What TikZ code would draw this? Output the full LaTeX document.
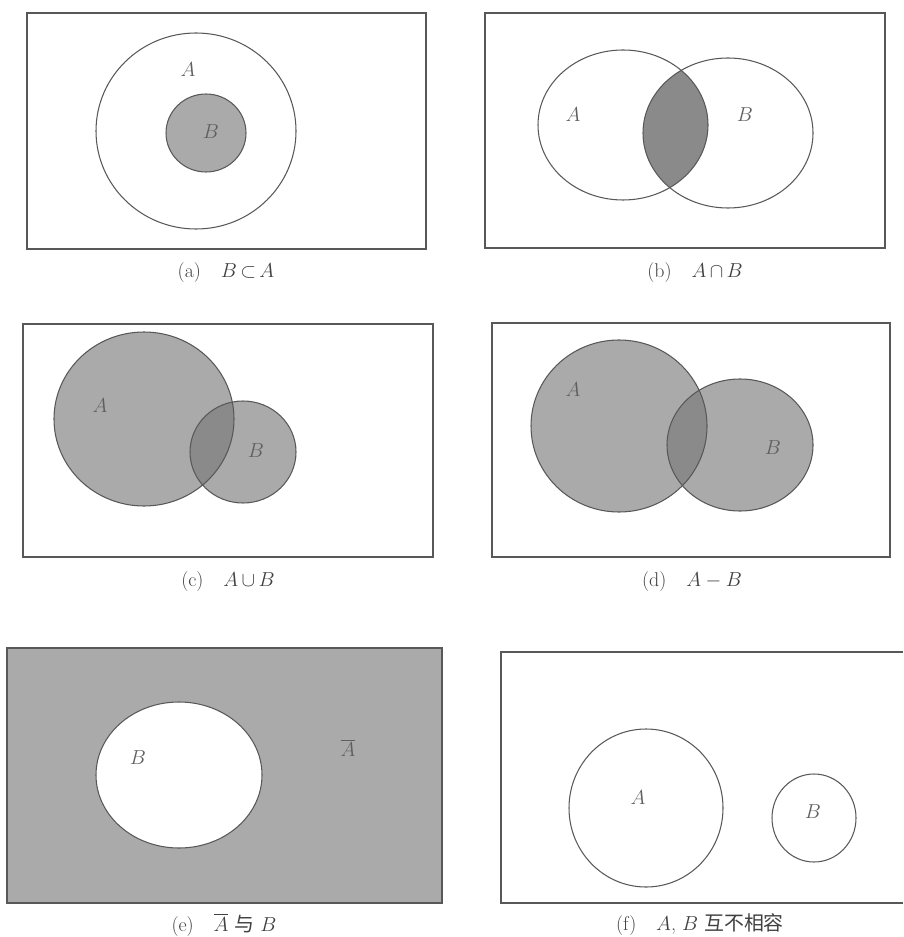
\documentclass[tikz,border=0pt]{standalone}
\usepackage{amsmath}
\usepackage{amssymb}
\usepackage{fontspec}
\newfontfamily\cjk{Noto Sans CJK SC}
\usepackage{tikz}
\usetikzlibrary{positioning}
\usepackage{xcolor}
\definecolor{edgeclr}{RGB}{88, 88, 88}
\definecolor{fillS}{RGB}{170, 170, 170}
\definecolor{fillT}{RGB}{138, 138, 138}
\definecolor{labclr}{RGB}{95, 95, 95}
\tikzset{
  % Universal set box
  unibox/.style   = {draw=edgeclr, line width=0.9pt},
  % Set boundaries
  setedge/.style  = {draw=edgeclr, line width=0.9pt},
  setshade/.style = {fill=fillS},
  setdark/.style  = {fill=fillT},
  % Labels
  lab/.style      = {font=\fontsize{17}{19}\selectfont, text=labclr, inner sep=1pt},
  capline/.style  = {font=\fontsize{17}{19}\selectfont, text=black!75, inner sep=1pt},
}
\begin{document}
\begin{tikzpicture}[x=0.03cm, y=-0.03cm]
  \useasboundingbox (0,0) rectangle (903,937);
  % (a) subset
  \draw[unibox] (27,13) rectangle (426,249);
  \draw[setedge] (196,131) ellipse (100 and 98);
  \draw[setedge, setshade] (206,133) ellipse (40 and 39);
  \node[lab] (a-A) at (188,70) {$A$};
  \node[lab] (a-B) at (211,132) {$B$};
  \node[capline] (cap-a) at (226,273) {(a)\quad $B\,{\subset}\,A$};

  % (b) intersection
  \draw[unibox] (485,13) rectangle (885,248);
  \begin{scope}
    \clip (623,125) ellipse (85 and 75);
    \fill[setdark] (728,133) ellipse (85 and 75);
  \end{scope}
  \draw[setedge] (623,125) ellipse (85 and 75);
  \draw[setedge] (728,133) ellipse (85 and 75);
  \node[lab] (b-A) at (573,115) {$A$};
  \node[lab] (b-B) at (745,115) {$B$};
  \node[capline] (cap-b) at (695,273) {(b)\quad $A\,{\cap}\,B$};

  % (c) union
  \draw[unibox] (23,324) rectangle (433,557);
  \fill[setshade] (144,419) ellipse (90 and 87);
  \fill[setshade] (243,452) ellipse (53 and 51);
  \begin{scope}
    \clip (144,419) ellipse (90 and 87);
    \fill[setdark] (243,452) ellipse (53 and 51);
  \end{scope}
  \draw[setedge] (144,419) ellipse (90 and 87);
  \draw[setedge] (243,452) ellipse (53 and 51);
  \node[lab] (c-A) at (100,406) {$A$};
  \node[lab] (c-B) at (256,451) {$B$};
  \node[capline] (cap-c) at (228,582) {(c)\quad $A\,{\cup}\,B$};

  % (d) difference
  \draw[unibox] (492,323) rectangle (890,557);
  \fill[setshade] (619,426) ellipse (88 and 86);
  \fill[setshade] (740,445) ellipse (73 and 66);
  \begin{scope}
    \clip (619,426) ellipse (88 and 86);
    \fill[setdark] (740,445) ellipse (73 and 66);
  \end{scope}
  \draw[setedge] (619,426) ellipse (88 and 86);
  \draw[setedge] (740,445) ellipse (73 and 66);
  \node[lab] (d-A) at (573,390) {$A$};
  \node[lab] (d-B) at (773,448) {$B$};
  \node[capline] (cap-d) at (692,582) {(d)\quad $A-B$};

  % (e) complement
  \draw[unibox, setshade] (7,648) rectangle (442,903);
  \draw[setedge, fill=white] (179,775) ellipse (83 and 73);
  \node[lab] (e-B) at (138,758) {$B$};
  \node[lab] (e-A) at (348,748) {$\overline{A}$};
  \node[capline] (cap-e) at (224,925) {(e)\quad $\overline{A}$ {\cjk 与} $B$};

  % (f) disjoint
  \draw[unibox] (903,652) -- (501,652) -- (501,903) -- (903,903);
  \draw[setedge] (646,808) ellipse (77 and 79);
  \draw[setedge] (814,818) ellipse (42 and 44);
  \node[lab] (f-A) at (638,798) {$A$};
  \node[lab] (f-B) at (813,812) {$B$};
  \node[capline] (cap-f) at (700,925) {(f)\quad $A$, $B$ {\cjk 互不相容}};
\end{tikzpicture}
\end{document}
